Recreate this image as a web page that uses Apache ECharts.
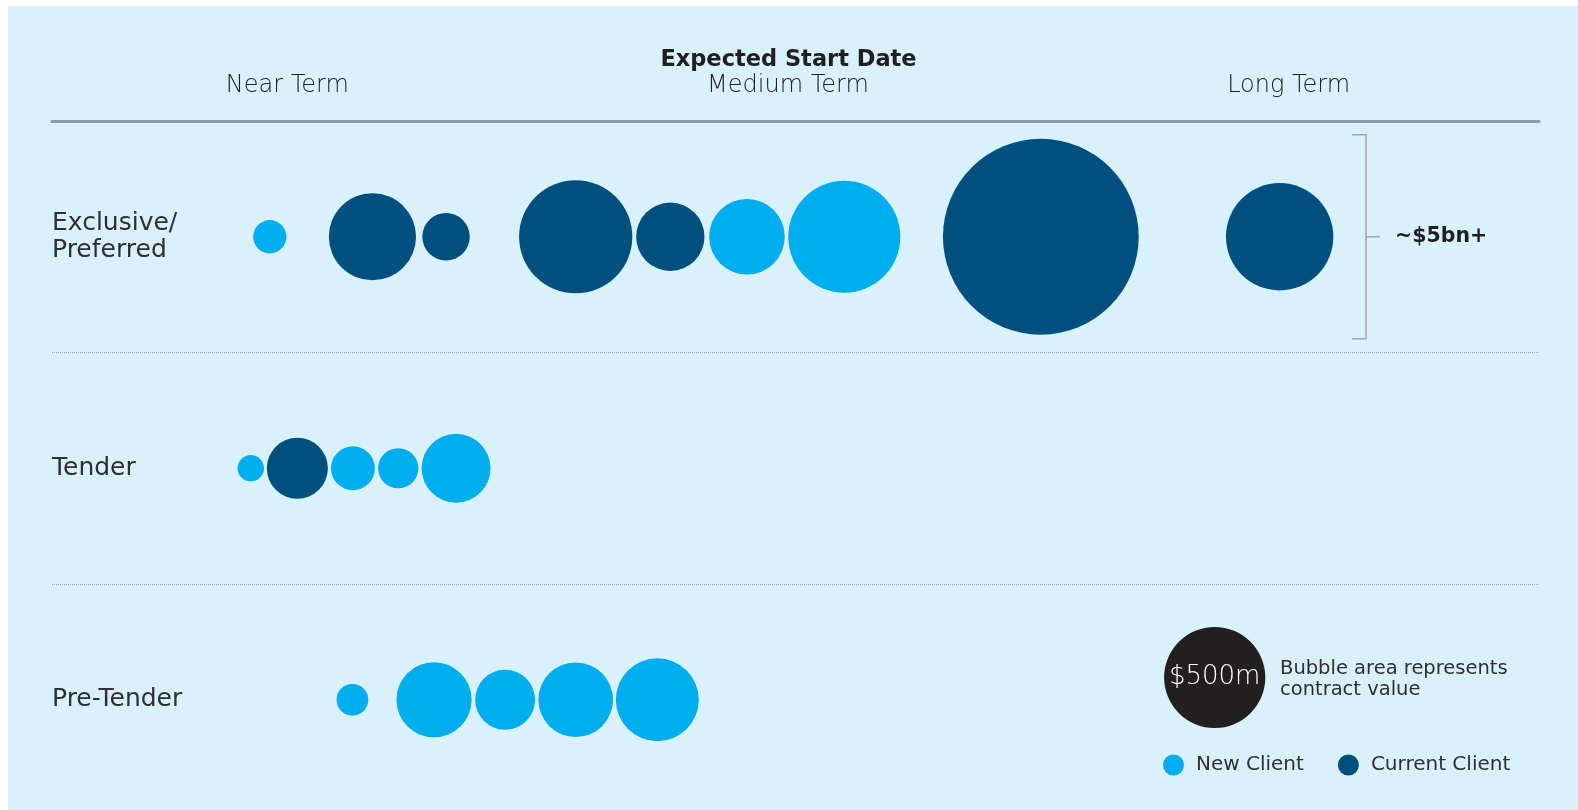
<!DOCTYPE html>
<html>
<head>
<meta charset="utf-8">
<script src="https://cdn.jsdelivr.net/npm/echarts@6/dist/echarts.min.js"></script>
<style>
  html, body { margin: 0; padding: 0; background: #ffffff; overflow: hidden; width: 1578px; height: 810px; }
  #chart { position: absolute; left: 8px; top: 6px; width: 1570px; height: 830px; }
</style>
</head>
<body>
<div id="chart"></div>
<script>
// Pipeline stages (rows) and start-date terms (columns)
const stages = ['Exclusive/\nPreferred', 'Tender', 'Pre-Tender'];
const termLabels = ['Near Term', 'Medium Term', 'Long Term'];
const termCentres = [0.5, 1.5, 2.5];   // 0-1 near, 1-2 medium, 2-3 long

// Expected start (term units), contract value ($m) and client type per opportunity
const exclusiveStart  = [0.465, 0.670, 0.817, 1.076, 1.265, 1.418, 1.6125, 2.005, 2.482];
const exclusiveValue  = [54, 371, 110, 626, 228, 279, 613, 1871, 563];
const exclusiveClient = ['new', 'current', 'current', 'current', 'current', 'new', 'new', 'current', 'current'];

const tenderStart  = [0.427, 0.520, 0.631, 0.7215, 0.837];
const tenderValue  = [34, 182, 94, 79, 232];
const tenderClient = ['new', 'current', 'new', 'new', 'new'];

const preTenderStart  = [0.630, 0.793, 0.935, 1.076, 1.239];
const preTenderValue  = [49, 276, 175, 272, 336];
const preTenderClient = ['new', 'new', 'new', 'new', 'new'];

// Reference bubble for the size key
const keyValue = 500;
const keyLabel = '$500m';
const bracketLabel = '~$5bn+';

const COLOR_NEW = '#00adee';
const COLOR_CURRENT = '#00507f';
const KEY_RADIUS = 50.6;           // radius (px) of the $500m bubble
const FONT = '"DejaVu Sans", Verdana, sans-serif';
const TEXT = '#303030';

// bubble area proportional to contract value
function bubbleDiameter(v) {
  return 2 * KEY_RADIUS * Math.sqrt(v / keyValue);
}

const rows = [
  [exclusiveStart, exclusiveValue, exclusiveClient],
  [tenderStart, tenderValue, tenderClient],
  [preTenderStart, preTenderValue, preTenderClient]
];
const newData = [], currentData = [];
rows.forEach(([starts, values, clients], r) => {
  starts.forEach((s, i) => {
    (clients[i] === 'new' ? newData : currentData).push([s, r, values[i]]);
  });
});

const chart = echarts.init(document.getElementById('chart'));
chart.setOption({
  animation: false,
  backgroundColor: '#d8f1fb',
  title: {
    text: 'Expected Start Date',
    left: 780.5,
    textAlign: 'center',
    top: 43,
    padding: 0,
    textStyle: { fontFamily: FONT, fontSize: 22.5, fontWeight: 'bold', color: '#231f20' }
  },
  grid: { left: 44, top: 115, width: 1487, height: 694.5, outerBoundsMode: 'none' },
  xAxis: {
    type: 'value',
    position: 'top',
    min: 0.03,
    max: 3,
    axisLine: { show: true, lineStyle: { color: '#8e9aa4', width: 3 } },
    axisTick: { show: false },
    splitLine: { show: false },
    axisLabel: {
      customValues: termCentres,
      formatter: v => termLabels[Math.floor(v)],
      margin: 23,
      fontFamily: FONT,
      fontSize: 24,
      fontWeight: 200,
      color: '#222222'
    }
  },
  yAxis: {
    type: 'category',
    data: stages,
    inverse: true,
    axisLine: { show: false },
    axisTick: { show: false },
    axisLabel: {
      inside: true,
      margin: 0,
      align: 'left',
      padding: [4, 0, 0, 0],
      fontFamily: FONT,
      fontSize: 25,
      lineHeight: 27,
      color: TEXT
    },
    splitLine: { show: true, lineStyle: { type: 'dotted', color: '#9aabb6', width: 1 } }
  },
  legend: {
    data: ['New Client', 'Current Client'],
    left: 1155,
    top: 748.5,
    icon: 'circle',
    itemWidth: 21,
    itemHeight: 21,
    itemGap: 34,
    padding: 0,
    textStyle: { fontFamily: FONT, fontSize: 20, color: TEXT, padding: [0, 0, 0, 7] }
  },
  series: [
    {
      name: 'New Client',
      type: 'scatter',
      data: newData,
      symbolSize: d => bubbleDiameter(d[2]),
      itemStyle: { color: COLOR_NEW, opacity: 1 },
      emphasis: { disabled: true }
    },
    {
      name: 'Current Client',
      type: 'scatter',
      data: currentData,
      symbolSize: d => bubbleDiameter(d[2]),
      itemStyle: { color: COLOR_CURRENT, opacity: 1 },
      emphasis: { disabled: true }
    }
  ]
});

// Bracket summarising the Exclusive/Preferred row, and the size key
const rowY = chart.convertToPixel({ yAxisIndex: 0 }, 0);
const bx = 1358;
chart.setOption({
  graphic: [
    {
      type: 'polyline',
      shape: { points: [[bx - 14, rowY - 102], [bx, rowY - 102], [bx, rowY + 102], [bx - 14, rowY + 102]] },
      style: { stroke: '#9aa6af', lineWidth: 1.5, fill: null }
    },
    {
      type: 'line',
      shape: { x1: bx, y1: rowY, x2: bx + 14, y2: rowY },
      style: { stroke: '#9aa6af', lineWidth: 1.5 }
    },
    {
      type: 'text',
      x: bx + 29,
      y: rowY,
      style: {
        text: bracketLabel, fontFamily: FONT, fontSize: 20.5, fontWeight: 'bold',
        fill: '#231f20', verticalAlign: 'middle', align: 'left'
      }
    },
    {
      type: 'circle',
      shape: { cx: 1206.7, cy: 671.5, r: bubbleDiameter(keyValue) / 2 },
      style: { fill: '#231f20' }
    },
    {
      type: 'text',
      x: 1206.7,
      y: 671.5,
      style: {
        text: keyLabel, fontFamily: FONT, fontSize: 26, fontWeight: 200,
        fill: '#ffffff', align: 'center', verticalAlign: 'middle'
      }
    },
    {
      type: 'text',
      x: 1272,
      y: 673,
      style: {
        text: 'Bubble area represents\ncontract value', fontFamily: FONT, fontSize: 19.5,
        lineHeight: 21, fill: TEXT, align: 'left', verticalAlign: 'middle'
      }
    }
  ]
});
</script>
</body>
</html>
